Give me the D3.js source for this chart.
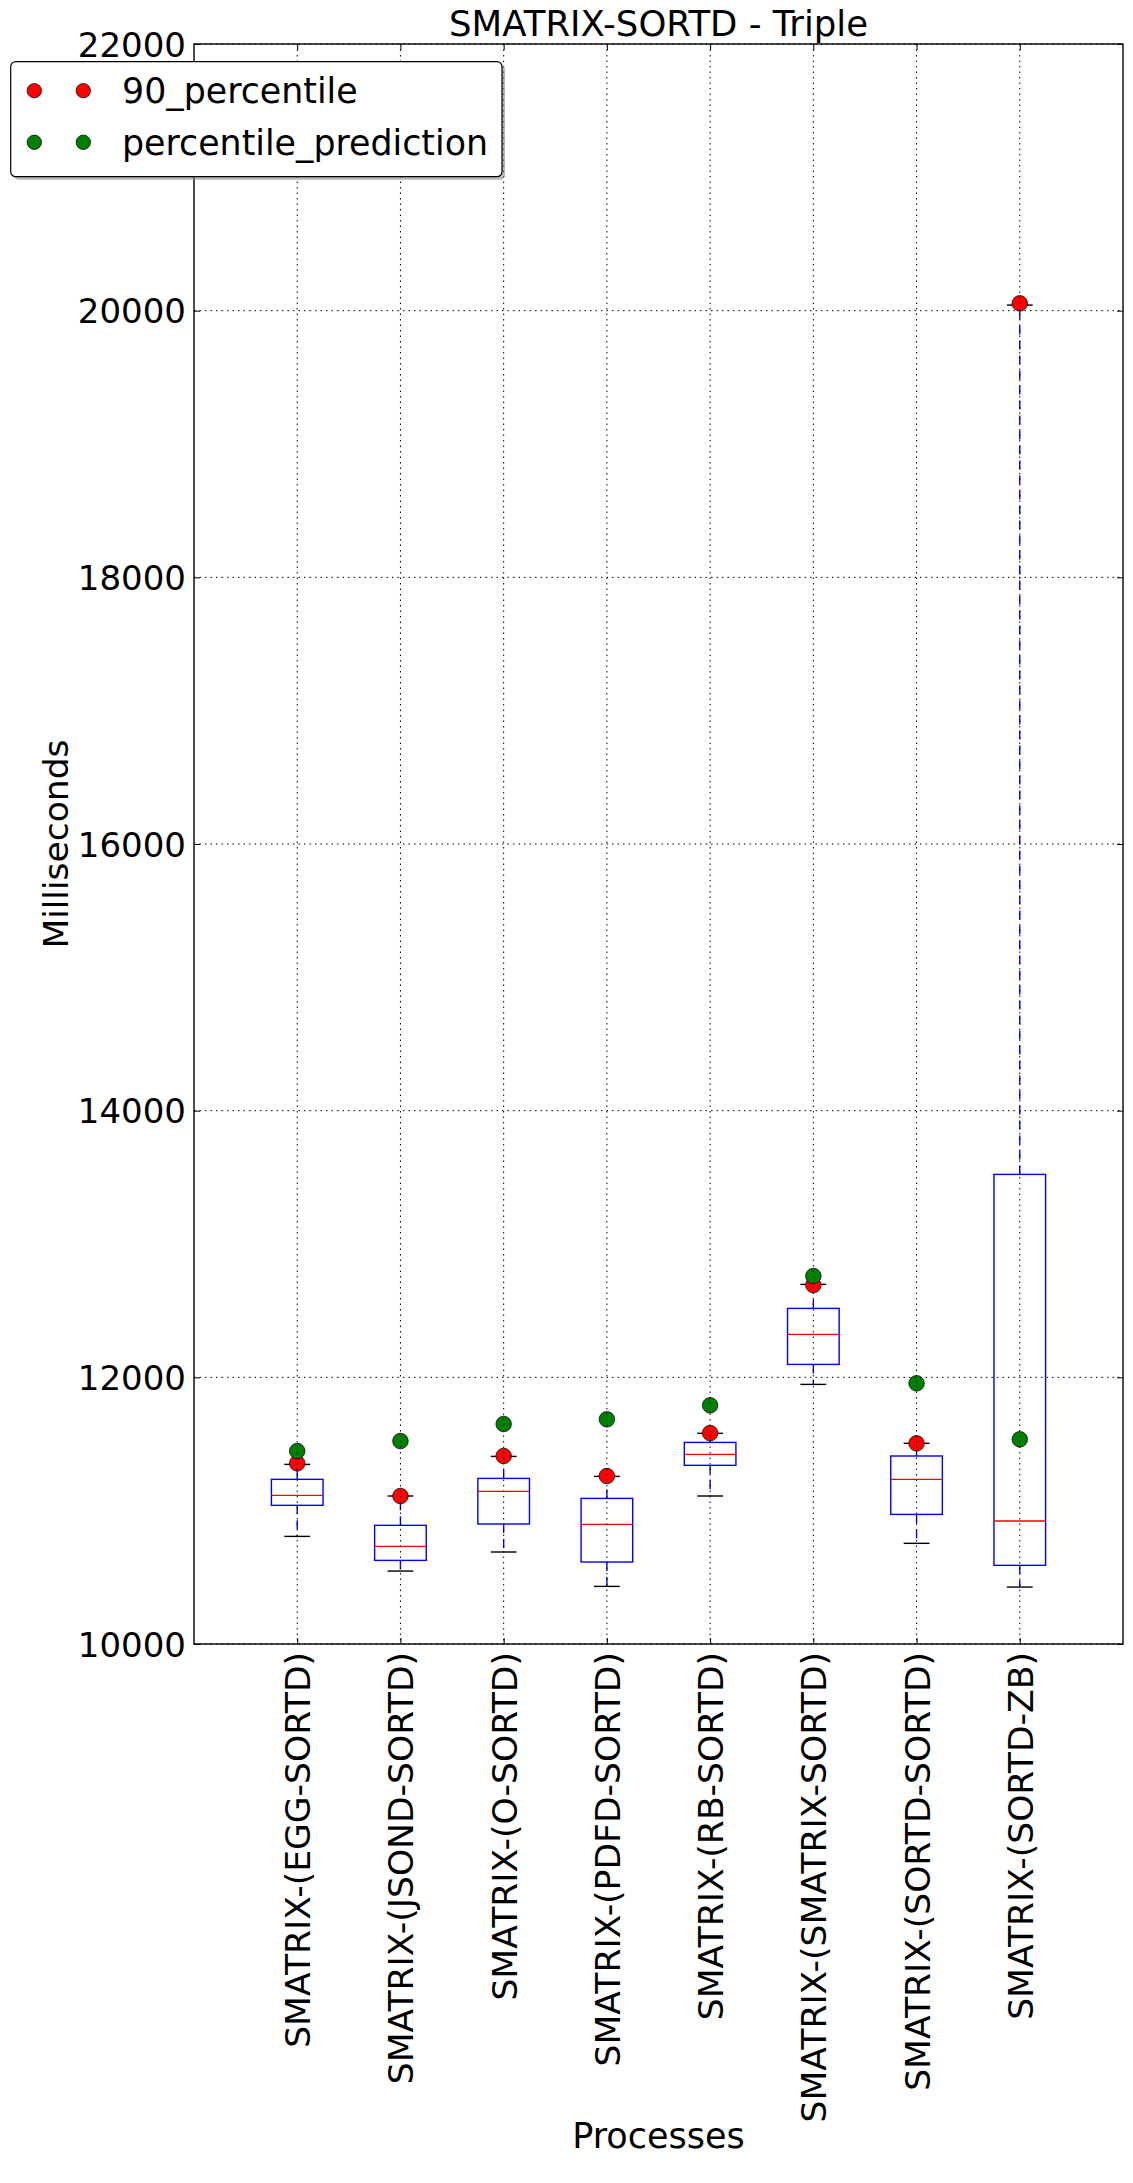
<!DOCTYPE html>
<html>
<head>
<meta charset="utf-8">
<script src="https://cdn.jsdelivr.net/npm/d3@7"></script>
<style>
  html, body { margin: 0; padding: 0; background: #fff; }
  svg { display: block; }
  text { font-family: "DejaVu Sans", sans-serif; fill: #000; }
</style>
</head>
<body>
<script>
const categories = ["SMATRIX-(EGG-SORTD)", "SMATRIX-(JSOND-SORTD)", "SMATRIX-(O-SORTD)", "SMATRIX-(PDFD-SORTD)",
  "SMATRIX-(RB-SORTD)", "SMATRIX-(SMATRIX-SORTD)", "SMATRIX-(SORTD-SORTD)", "SMATRIX-(SORTD-ZB)"];
const whiskerLow  = [10807, 10547, 10690, 10432, 11110, 11947, 10755, 10427];
const q1          = [11040, 10627, 10900, 10615, 11340, 12097, 10972, 10590];
const median      = [11115, 10732, 11145, 10897, 11422, 12322, 11235, 10922];
const q3          = [11235, 10890, 11242, 11092, 11512, 12517, 11410, 13522];
const whiskerHigh = [11347, 11110, 11407, 11257, 11580, 12697, 11505, 20042];
const p90         = [11355, 11110, 11410, 11260, 11582, 12692, 11505, 20055];
const prediction  = [11447, 11522, 11650, 11685, 11790, 12760, 11955, 11535];
const yTicks = [10000, 12000, 14000, 16000, 18000, 20000, 22000];
const seriesNames = ["90_percentile", "percentile_prediction"];
const seriesColors = ["#ff0000", "#008000"];
const title = "SMATRIX-SORTD - Triple";
const xLabel = "Processes";
const yLabel = "Milliseconds";

const W = 1133, H = 2183;
const L = 194, R = 1123, T = 44, B = 1644;
const FS = 34;

const svg = d3.select("body").append("svg").attr("width", W).attr("height", H);

const x = d3.scaleLinear().domain([0, categories.length + 1]).range([L, R]);
const y = d3.scaleLinear().domain([10000, 22000]).range([B, T]);
const pos = categories.map((c, i) => i + 1);
const boxW = x(0.5) - x(0);
const capW = x(0.25) - x(0);

const data = categories.map((c, i) => ({
  c, p: pos[i], lo: whiskerLow[i], q1: q1[i], med: median[i], q3: q3[i], hi: whiskerHigh[i],
  p90: p90[i], pred: prediction[i]
}));

const plot = svg.append("g");

// whiskers
plot.selectAll(".wlo").data(data).join("line")
  .attr("x1", d => x(d.p)).attr("x2", d => x(d.p))
  .attr("y1", d => y(d.q1)).attr("y2", d => y(d.lo))
  .attr("stroke", "#0000ff").attr("stroke-width", 1.4).attr("stroke-dasharray", "9,6");
plot.selectAll(".whi").data(data).join("line")
  .attr("x1", d => x(d.p)).attr("x2", d => x(d.p))
  .attr("y1", d => y(d.q3)).attr("y2", d => y(d.hi))
  .attr("stroke", "#0000ff").attr("stroke-width", 1.4).attr("stroke-dasharray", "9,6");
// caps
["lo", "hi"].forEach(k => {
  plot.selectAll(".cap" + k).data(data).join("line")
    .attr("x1", d => x(d.p) - capW / 2).attr("x2", d => x(d.p) + capW / 2)
    .attr("y1", d => y(d[k])).attr("y2", d => y(d[k]))
    .attr("stroke", "#000").attr("stroke-width", 1.4);
});
// boxes
plot.selectAll(".box").data(data).join("rect")
  .attr("x", d => x(d.p) - boxW / 2).attr("width", boxW)
  .attr("y", d => y(d.q3)).attr("height", d => y(d.q1) - y(d.q3))
  .attr("fill", "none").attr("stroke", "#0000ff").attr("stroke-width", 1.4);
// medians
plot.selectAll(".med").data(data).join("line")
  .attr("x1", d => x(d.p) - boxW / 2).attr("x2", d => x(d.p) + boxW / 2)
  .attr("y1", d => y(d.med)).attr("y2", d => y(d.med))
  .attr("stroke", "#ff0000").attr("stroke-width", 1.4);

// markers
plot.selectAll(".p90").data(data).join("circle")
  .attr("cx", d => x(d.p)).attr("cy", d => y(d.p90)).attr("r", 7.8)
  .attr("fill", seriesColors[0]).attr("stroke", "#000").attr("stroke-width", 0.7);
plot.selectAll(".pred").data(data).join("circle")
  .attr("cx", d => x(d.p)).attr("cy", d => y(d.pred)).attr("r", 7.8)
  .attr("fill", seriesColors[1]).attr("stroke", "#000").attr("stroke-width", 0.7);

// grid (drawn above, as in the reference)
const grid = svg.append("g");
grid.selectAll(".gy").data(yTicks).join("line")
  .attr("x1", L).attr("x2", R).attr("y1", d => y(d)).attr("y2", d => y(d))
  .attr("stroke", "#000").attr("stroke-width", 1).attr("stroke-dasharray", "1.5,4");
grid.selectAll(".gx").data(pos).join("line")
  .attr("y1", T).attr("y2", B).attr("x1", d => x(d)).attr("x2", d => x(d))
  .attr("stroke", "#000").attr("stroke-width", 1).attr("stroke-dasharray", "1.5,4");

// axes (inward ticks, all four sides)
const tk = 6;
svg.append("g").attr("transform", `translate(${L},0)`)
  .call(d3.axisLeft(y).tickValues(yTicks).tickSize(-tk).tickPadding(8).tickFormat(d3.format("d")))
  .call(g => g.select(".domain").remove())
  .call(g => g.selectAll("line").attr("stroke", "#000").attr("stroke-width", 1))
  .call(g => g.selectAll("text").attr("font-size", FS).attr("font-family", "DejaVu Sans")
    .attr("x", -8).attr("dy", "0.36em"));
svg.append("g").attr("transform", `translate(${R},0)`)
  .call(d3.axisRight(y).tickValues(yTicks).tickSize(-tk).tickFormat(""))
  .call(g => g.select(".domain").remove())
  .call(g => g.selectAll("line").attr("stroke", "#000").attr("stroke-width", 1));
svg.append("g").attr("transform", `translate(0,${B})`)
  .call(d3.axisBottom(x).tickValues(pos).tickSize(-tk).tickFormat((d, i) => categories[i]))
  .call(g => g.select(".domain").remove())
  .call(g => g.selectAll("line").attr("stroke", "#000").attr("stroke-width", 1))
  .call(g => g.selectAll("text").attr("font-size", 34.6).attr("font-family", "DejaVu Sans")
    .attr("text-anchor", "end").attr("transform", "translate(0,8) rotate(-90)")
    .attr("x", 0).attr("y", 0).attr("dy", "0.36em"));
svg.append("g").attr("transform", `translate(0,${T})`)
  .call(d3.axisTop(x).tickValues(pos).tickSize(-tk).tickFormat(""))
  .call(g => g.select(".domain").remove())
  .call(g => g.selectAll("line").attr("stroke", "#000").attr("stroke-width", 1));

// frame
svg.append("rect").attr("x", L).attr("y", T).attr("width", R - L).attr("height", B - T)
  .attr("fill", "none").attr("stroke", "#000").attr("stroke-width", 1.4);

// titles
svg.append("text").attr("x", (L + R) / 2).attr("y", 36).attr("text-anchor", "middle")
  .attr("font-size", 35.5).text(title);
svg.append("text").attr("x", (L + R) / 2).attr("y", 2148).attr("text-anchor", "middle")
  .attr("font-size", 35).text(xLabel);
svg.append("text").attr("transform", `translate(68,${(T + B) / 2}) rotate(-90)`)
  .attr("text-anchor", "middle").attr("font-size", 34.5).text(yLabel);

// legend
const lg = svg.append("g");
const lx = 10.7, ly = 61.7, lw = 491.3, lh = 115;
lg.append("rect").attr("x", lx + 3).attr("y", ly + 3).attr("width", lw).attr("height", lh)
  .attr("rx", 5).attr("fill", "#888").attr("opacity", 0.6);
lg.append("rect").attr("x", lx).attr("y", ly).attr("width", lw).attr("height", lh)
  .attr("rx", 5).attr("fill", "#fff").attr("stroke", "#000").attr("stroke-width", 1.2);
const rowsY = [90.7, 142.3];
seriesNames.forEach((name, i) => {
  [34.3, 83.3].forEach(cx => {
    lg.append("circle").attr("cx", cx).attr("cy", rowsY[i]).attr("r", 7.2)
      .attr("fill", seriesColors[i]).attr("stroke", "#000").attr("stroke-width", 0.7);
  });
  lg.append("text").attr("x", 122).attr("y", rowsY[i]).attr("dy", "0.36em")
    .attr("font-size", 34.8).text(name);
});
</script>
</body>
</html>
